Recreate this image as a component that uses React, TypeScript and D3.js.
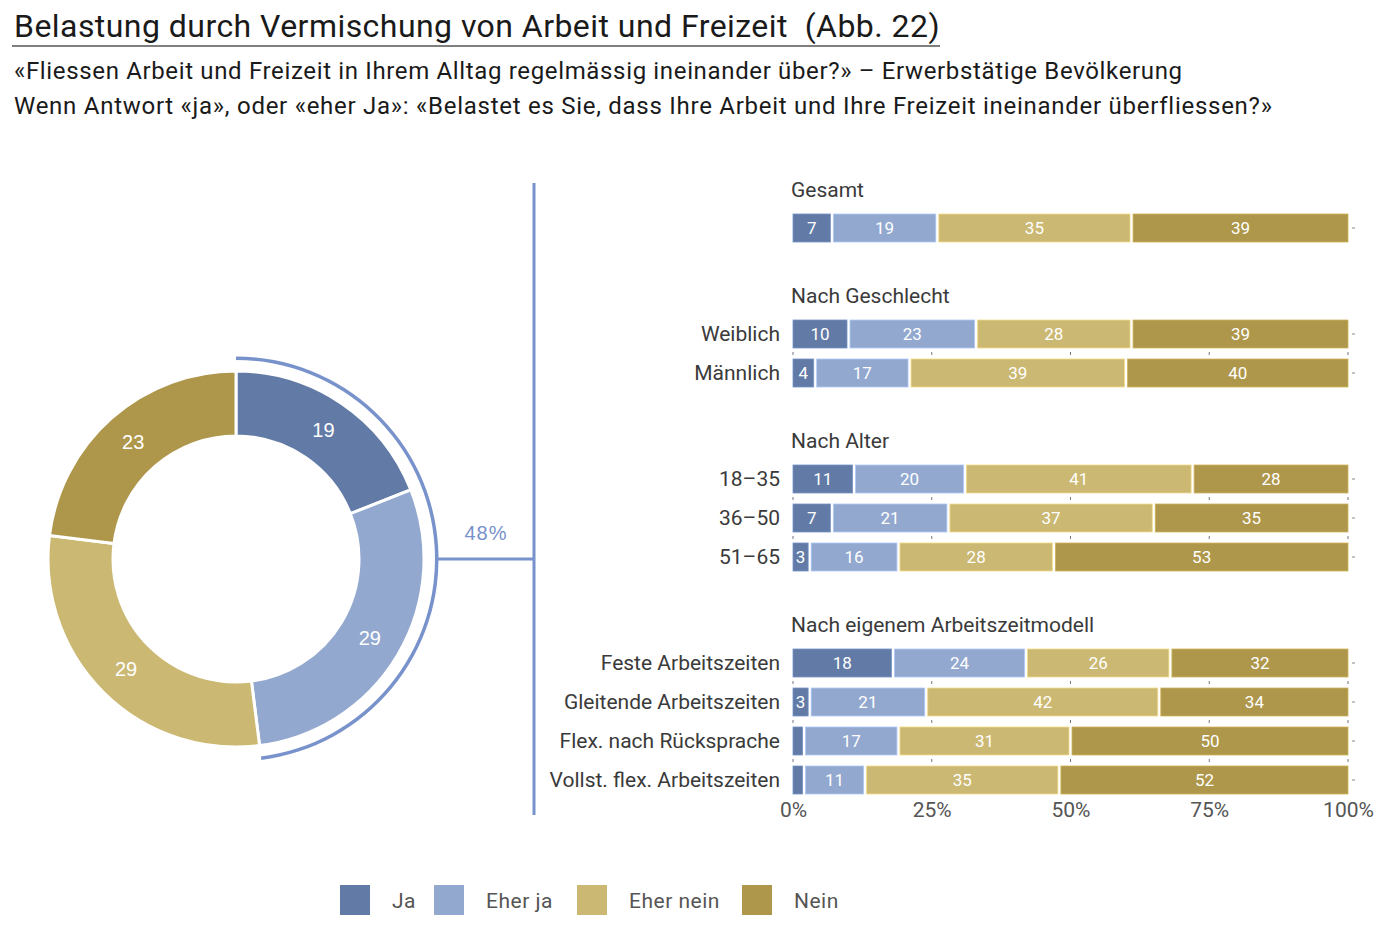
import React, { useEffect, useRef } from "react";
import * as d3 from "d3";

const categories = ["Ja", "Eher ja", "Eher nein", "Nein"];
const catColors = ["#627ba6", "#92a8cf", "#cbb873", "#ae974b"];
const donutValues = [19, 29, 29, 23];
const sectionTitles = ["Gesamt", "Nach Geschlecht", "Nach Alter", "Nach eigenem Arbeitszeitmodell"];
const rowLabels = [
  [""],
  ["Weiblich", "Männlich"],
  ["18–35", "36–50", "51–65"],
  ["Feste Arbeitszeiten", "Gleitende Arbeitszeiten", "Flex. nach Rücksprache", "Vollst. flex. Arbeitszeiten"],
];
const rowValues = [
  [[7, 19, 35, 39]],
  [[10, 23, 28, 39], [4, 17, 39, 40]],
  [[11, 20, 41, 28], [7, 21, 37, 35], [3, 16, 28, 53]],
  [[18, 24, 26, 32], [3, 21, 42, 34], [2, 17, 31, 50], [2, 11, 35, 52]],
];
const axisTicks = [0, 0.25, 0.5, 0.75, 1];
const title = "Belastung durch Vermischung von Arbeit und Freizeit  (Abb. 22)";
const subtitle1 = "«Fliessen Arbeit und Freizeit in Ihrem Alltag regelmässig ineinander über?» – Erwerbstätige Bevölkerung";
const subtitle2 = "Wenn Antwort «ja», oder «eher Ja»: «Belastet es Sie, dass Ihre Arbeit und Ihre Freizeit ineinander überfliessen?»";

const FONT = "'Roboto', sans-serif";
const TXT = "#3a3a3a";
const LINE = "#7892cb";

export default function App() {
  const ref = useRef<SVGSVGElement | null>(null);
  useEffect(() => {
    const svg = d3.select(ref.current);
    svg.selectAll("*").remove();

    // Titles
    svg.append("text").attr("x", 14).attr("y", 37).attr("font-size", 32).attr("fill", "#1a1a1a")
      .attr("font-family", FONT).style("white-space", "pre").attr("letter-spacing", 0.45).text(title);
    svg.append("line").attr("x1", 12).attr("x2", 940).attr("y1", 46).attr("y2", 46)
      .attr("stroke", "#555").attr("stroke-width", 1.5);
    svg.append("text").attr("x", 14).attr("y", 79).attr("font-size", 24).attr("fill", "#1a1a1a")
      .attr("font-family", FONT).attr("letter-spacing", 0.65).text(subtitle1);
    svg.append("text").attr("x", 14).attr("y", 114).attr("font-size", 24).attr("fill", "#1a1a1a")
      .attr("font-family", FONT).attr("letter-spacing", 0.73).text(subtitle2);

    // Donut
    const cx = 236, cy = 559, rO = 188, rI = 123;
    const pie = d3.pie<number>().sort(null).value((d) => d);
    const arcs = pie(donutValues);
    const arc = d3.arc<d3.PieArcDatum<number>>().innerRadius(rI).outerRadius(rO);
    const g = svg.append("g").attr("transform", `translate(${cx},${cy})`);
    g.selectAll("path.seg").data(arcs).enter().append("path")
      .attr("d", arc as any).attr("fill", (_d, i) => catColors[i])
      .attr("stroke", "#fff").attr("stroke-width", 3);
    g.selectAll("text.lbl").data(arcs).enter().append("text")
      .attr("transform", (d) => `translate(${arc.centroid(d)})`)
      .attr("text-anchor", "middle").attr("dy", "0.35em")
      .attr("font-family", "'Liberation Sans', Arial, sans-serif").attr("font-size", 20)
      .attr("fill", "#fff").text((d) => String(d.data));

    const yesShare = (donutValues[0] + donutValues[1]) / 100;
    const outerArc = d3.arc<any>().innerRadius(199).outerRadius(202.5)
      .startAngle(0).endAngle(yesShare * 2 * Math.PI);
    g.append("path").attr("d", outerArc({} as any) as string).attr("fill", LINE);

    const vx = 534;
    svg.append("line").attr("x1", cx + 201).attr("x2", vx).attr("y1", cy).attr("y2", cy)
      .attr("stroke", LINE).attr("stroke-width", 3);
    svg.append("line").attr("x1", vx).attr("x2", vx).attr("y1", 183).attr("y2", 815)
      .attr("stroke", LINE).attr("stroke-width", 3);
    svg.append("text").attr("x", 486).attr("y", 540).attr("text-anchor", "middle")
      .attr("font-family", "'Liberation Sans', Arial, sans-serif").attr("font-size", 20)
      .attr("fill", LINE).attr("letter-spacing", 1).text(`${Math.round(yesShare * 100)}%`);

    // Bars
    const x = d3.scaleLinear().domain([0, 100]).range([793, 1348]);
    const y0 = 214, step = 39, barH = 28, sectionGap = 67;
    let rowIdx = 0;
    const bars = svg.append("g");
    sectionTitles.forEach((st, si) => {
      const firstY = y0 + rowIdx * step + si * sectionGap;
      bars.append("text").attr("x", 791).attr("y", firstY - 17).attr("font-family", FONT)
        .attr("font-size", 21).attr("fill", TXT).text(st);
      rowValues[si].forEach((vals, ri) => {
        const yy = y0 + rowIdx * step + si * sectionGap;
        if (ri > 0) {
          axisTicks.forEach((t) => {
            bars.append("line").attr("x1", x(t * 100)).attr("x2", x(t * 100))
              .attr("y1", yy - 7).attr("y2", yy - 4).attr("stroke", "#777").attr("stroke-width", 1);
          });
        }
        let cum = 0;
        vals.forEach((v, ci) => {
          const xa = x(cum), xb = x(cum + v);
          const left = ci === 0 ? xa : xa + 1.5;
          const right = ci === vals.length - 1 ? xb : xb - 1.5;
          bars.append("rect").attr("x", left).attr("y", yy).attr("width", Math.max(0, right - left))
            .attr("height", barH).attr("fill", catColors[ci])
            .attr("stroke", d3.color(catColors[ci])!.brighter(0.5).toString()).attr("stroke-width", 0.8);
          if (v > 2) {
            bars.append("text").attr("x", (left + right) / 2).attr("y", yy + barH / 2)
              .attr("dy", "0.35em").attr("text-anchor", "middle").attr("font-family", FONT)
              .attr("font-size", 17).attr("fill", "#fff").text(String(v));
          }
          cum += v;
        });
        bars.append("line").attr("x1", 1352).attr("x2", 1355).attr("y1", yy + barH / 2).attr("y2", yy + barH / 2)
          .attr("stroke", "#888").attr("stroke-width", 1);
        const lab = rowLabels[si][ri];
        if (lab) {
          bars.append("text").attr("x", 780).attr("y", yy + barH / 2).attr("dy", "0.35em")
            .attr("text-anchor", "end").attr("font-family", FONT).attr("font-size", 21)
            .attr("fill", TXT).text(lab);
        }
        rowIdx++;
      });
    });

    const axis = d3.axisBottom(x).tickValues(axisTicks.map((t) => t * 100))
      .tickFormat((d) => `${d}%`).tickSize(0).tickPadding(9);
    const ax = svg.append("g").attr("transform", `translate(0,793)`).call(axis);
    ax.select(".domain").remove();
    ax.selectAll("text").attr("font-family", FONT).attr("font-size", 21).attr("fill", "#555");

    // Legend
    const legX = [340, 434, 577, 742];
    const leg = svg.append("g");
    categories.forEach((c, i) => {
      leg.append("rect").attr("x", legX[i]).attr("y", 885).attr("width", 30).attr("height", 30)
        .attr("fill", catColors[i]);
      leg.append("text").attr("x", legX[i] + 52).attr("y", 901).attr("dy", "0.35em")
        .attr("font-family", FONT).attr("font-size", 21).attr("letter-spacing", 0.5)
        .attr("fill", "#555").text(c);
    });
  }, []);
  return (
    <svg ref={ref} width={1400} height={939}
      style={{ position: "absolute", left: 0, top: 0, background: "#fff" }} />
  );
}
